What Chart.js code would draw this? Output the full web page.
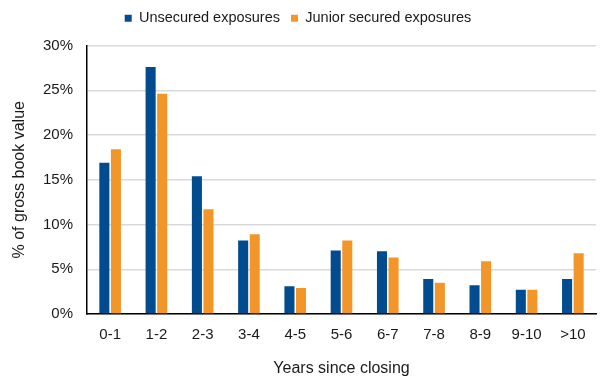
<!DOCTYPE html>
<html>
<head>
<meta charset="utf-8">
<script src="https://cdn.jsdelivr.net/npm/chart.js@4/dist/chart.umd.min.js"></script>
<style>
  html, body { margin: 0; padding: 0; background: #ffffff; }
  #wrap { width: 601px; height: 380px; }
</style>
</head>
<body>
<div id="wrap"><canvas id="c" width="601" height="380"></canvas></div>
<script>
// Years since closing buckets
const categories = ['0-1', '1-2', '2-3', '3-4', '4-5', '5-6', '6-7', '7-8', '8-9', '9-10', '>10'];
// Share of gross book value (%)
const unsecured = [16.9, 27.6, 15.4, 8.2, 3.1, 7.1, 7.0, 3.9, 3.2, 2.7, 3.9];
const juniorSecured = [18.4, 24.6, 11.7, 8.9, 2.9, 8.2, 6.3, 3.5, 5.9, 2.7, 6.8];
const yTicks = [0, 5, 10, 15, 20, 25, 30];

const FONT = 'Liberation Sans, Arial, Helvetica, sans-serif';
Chart.defaults.font.family = FONT;
Chart.defaults.color = '#1a1a1a';

// Extra space between the legend and the plot area
const legendGap = {
  id: 'legendGap',
  beforeInit(chart) {
    const fit = chart.legend.fit;
    chart.legend.fit = function () {
      fit.call(this);
      this.height += 10;
    };
  }
};

new Chart(document.getElementById('c'), {
  type: 'bar',
  data: {
    labels: categories,
    datasets: [
      { label: 'Unsecured exposures', data: unsecured, backgroundColor: '#004c8f',
        categoryPercentage: 0.5, barPercentage: 0.87 },
      { label: 'Junior secured exposures', data: juniorSecured, backgroundColor: '#f3962a',
        categoryPercentage: 0.5, barPercentage: 0.87 }
    ]
  },
  plugins: [legendGap],
  options: {
    responsive: false,
    animation: false,
    layout: { padding: { left: 0, right: 5, top: 0, bottom: 0 } },
    plugins: {
      tooltip: { enabled: false },
      legend: {
        position: 'top',
        labels: {
          boxWidth: 7, boxHeight: 7, padding: 11,
          font: { size: 14.5 }, color: '#1a1a1a'
        }
      }
    },
    scales: {
      x: {
        grid: { display: false, drawTicks: false },
        border: { color: '#000000', width: 1.5 },
        ticks: { padding: 12, font: { size: 15 }, color: '#1a1a1a' },
        title: { display: true, text: 'Years since closing', font: { size: 16 },
                 color: '#1a1a1a', padding: { top: 0, bottom: 2 } },
        afterFit: (s) => { s.height = 66; }
      },
      y: {
        min: 0, max: 30,
        grid: { color: '#d9d9d9', lineWidth: 1.5, drawTicks: false },
        border: { color: '#000000', width: 1.5 },
        afterBuildTicks: (s) => { s.ticks = yTicks.map(v => ({ value: v })); },
        ticks: { padding: 14, font: { size: 15 }, color: '#1a1a1a',
                 callback: (v) => v + '%' },
        title: { display: true, text: '% of gross book value', font: { size: 16 },
                 color: '#1a1a1a', padding: { top: 10, bottom: 0 } },
        afterFit: (s) => { s.width = 87; }
      }
    }
  }
});
</script>
</body>
</html>
